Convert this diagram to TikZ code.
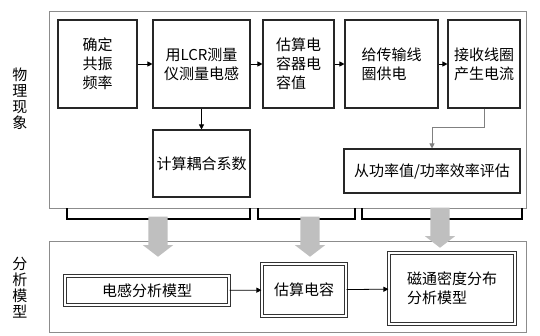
\documentclass[tikz,border=0pt]{standalone}
\usepackage{fontspec}
\setmainfont{Noto Sans CJK SC}
\usepackage{tikz}
\usetikzlibrary{arrows.meta, shapes.arrows, positioning}

\begin{document}
\begin{tikzpicture}[
    x=1pt, y=-1pt,
    frame/.style={draw=black!45, line width=1pt, fill=white},
    box/.style={draw=black!85, line width=1.1pt, fill=white, inner sep=2pt,
                font=\fontsize{15}{19}\selectfont},
    dbox/.style={draw=black!80, double=white, double distance=1.5pt,
                 line width=1.1pt, fill=white, inner sep=2pt,
                 font=\fontsize{15}{19}\selectfont},
    sidelabel/.style={align=center, inner sep=0pt, font=\fontsize{15}{16}\selectfont},
    arrow/.style={-{Triangle[length=5pt, width=5pt]}, line width=0.8pt},
    bracket/.style={line width=2.5pt, line join=miter},
    bigarrow/.style={single arrow, fill=black!25, draw=none, inner sep=9.5pt,
                     minimum height=40pt, single arrow head extend=5.5pt,
                     single arrow tip angle=105, rotate=-90}
]
  \useasboundingbox (0,0) rectangle (540,335);

  % Frames
  \node[frame, minimum width=477pt, minimum height=197pt] (physframe) at (287.5,109.5) {};
  \node[frame, minimum width=477pt, minimum height=91pt] (modelframe) at (287.5,286.5) {};
  \node[sidelabel] (physlabel) at (20,99) {物\\理\\现\\象};
  \node[sidelabel] (modellabel) at (20,288) {分\\析\\模\\型};

  % Brackets under the upper frame
  \draw[bracket] (67,208) |- (250,219) -- (250,208);
  \draw[bracket] (258,208) |- (355,219) -- (355,208);
  \draw[bracket] (362,208) |- (522,219) -- (522,208);

  % Gray block arrows
  \node[bigarrow] (down1) at (158,233) {};
  \node[bigarrow] (down2) at (310,233) {};
  \node[bigarrow] (down3) at (440,224) {};

  % Nodes
  \node[box, align=center, minimum width=79pt, minimum height=88pt] (freq) at (97.5,64)
      {确定\\共振\\频率};
  \node[box, align=center, minimum width=97pt, minimum height=88pt] (lcr) at (201.5,64)
      {用LCR测量\\仪测量电感};
  \node[box, align=left, minimum width=71pt, minimum height=88pt] (cap) at (298.5,64)
      {估算电\\容器电\\容值};
  \node[box, align=left, minimum width=93pt, minimum height=88pt] (feed) at (391.5,64)
      {给传输线\\圈供电};
  \node[box, align=left, minimum width=72pt, minimum height=88pt] (recv) at (484,64)
      {接收线圈\\产生电流};
  \node[box, minimum width=97pt, minimum height=67pt] (coupling) at (201.5,163.5)
      {计算耦合系数};
  \node[box, minimum width=176pt, minimum height=44pt] (power) at (432,171)
      {从功率值/功率效率评估};

  \node[dbox, minimum width=164pt, minimum height=29pt] (indmodel) at (147,290.5)
      {电感分析模型};
  \node[dbox, minimum width=84pt, minimum height=52pt] (capest) at (304,290)
      {估算电容};
  \node[dbox, align=left, minimum width=126pt, minimum height=71pt] (fluxmodel) at (452,288.5)
      {磁通密度分布\\分析模型};

  % Arrows
  \draw[arrow] (freq) -- (lcr);
  \draw[arrow] (lcr) -- (cap);
  \draw[arrow] (cap) -- (feed);
  \draw[arrow] (feed) -- (recv);
  \draw[arrow] (lcr) -- (coupling);
  \draw[arrow, draw=black!50] (recv.south) -- ++(0,19) -| (power.north);
  \draw[arrow] (indmodel) -- (capest);
  \draw[arrow] (capest) -- (fluxmodel);
\end{tikzpicture}
\end{document}
